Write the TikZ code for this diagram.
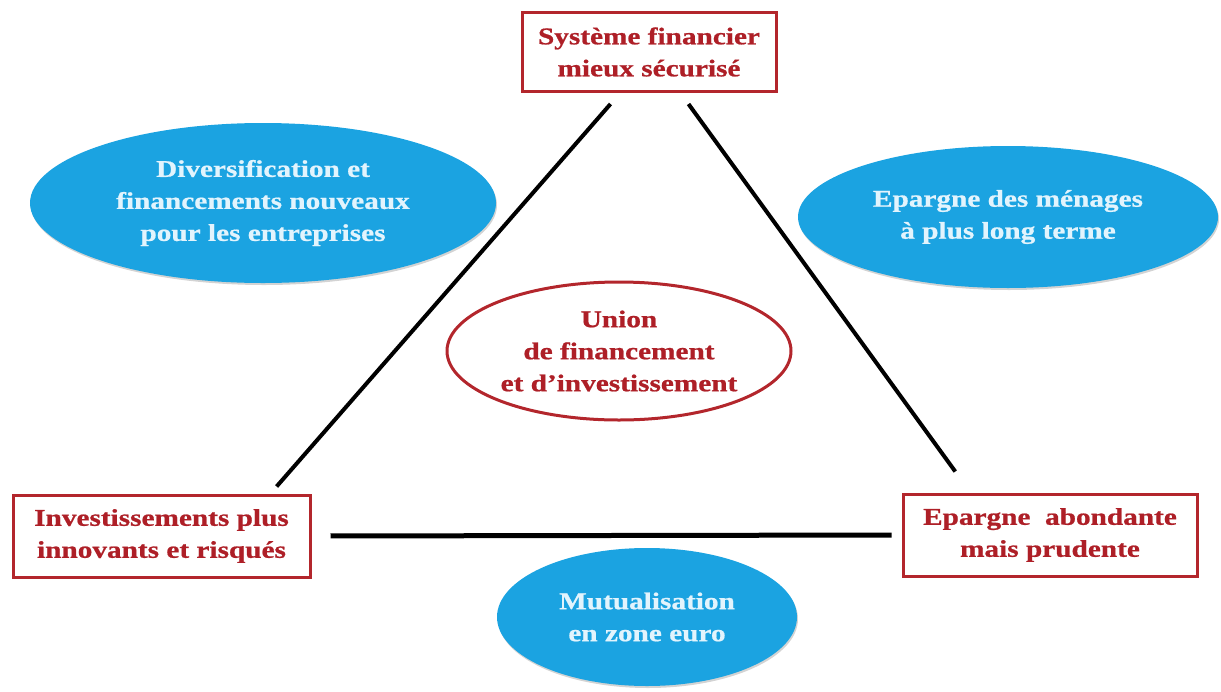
\documentclass[tikz,border=0pt]{standalone}
\usepackage{fontspec}
\setmainfont{Liberation Serif}[BoldFeatures={FakeStretch=1.22,FakeBold=0.8}]
\usetikzlibrary{shapes.geometric,calc,shadows}
\definecolor{boxred}{HTML}{B3262C}
\definecolor{txtred}{HTML}{AE1F27}
\definecolor{skyblue}{HTML}{1BA3E1}
\definecolor{paleblue}{HTML}{E2F4FD}
\tikzset{
  every node/.style={font=\fontsize{24}{32}\selectfont\bfseries, align=center, inner sep=0pt},
  redbox/.style={draw=boxred, line width=3pt, fill=white, text=txtred,
    drop shadow={opacity=0.2, shadow xshift=1.5pt, shadow yshift=-1.5pt}},
  blueoval/.style={ellipse, fill=skyblue, text=paleblue,
    drop shadow={opacity=0.35, shadow xshift=1pt, shadow yshift=-2pt}},
  redoval/.style={ellipse, draw=boxred, line width=3pt, fill=white, text=txtred},
  link/.style={draw=black, line width=4pt},
}
\begin{document}
\begin{tikzpicture}[x=1pt, y=-1pt]
  \useasboundingbox (0,0) rectangle (1221,691);

  % three poles of the triangle
  \node[redbox, minimum width=254pt, minimum height=79pt] (top) at (649,52)
    {Système financier\\mieux sécurisé};
  \node[redbox, minimum width=297pt, minimum height=82pt] (left) at (161.5,536)
    {Investissements plus\\innovants et risqués};
  \node[redbox, minimum width=294pt, minimum height=82pt] (right) at (1050,535)
    {Epargne~ abondante\\mais prudente};

  % blue ellipses around the triangle
  \node[blueoval, minimum width=466pt, minimum height=160pt] (diver) at (263,203)
    {Diversification et\\financements nouveaux\\pour les entreprises};
  \node[blueoval, minimum width=420pt, minimum height=142pt] (menage) at (1008,217)
    {Epargne des ménages\\à plus long terme};
  \node[blueoval, minimum width=300pt, minimum height=138pt] (mutual) at (647,617)
    {Mutualisation\\en zone euro};

  % central ellipse
  \node[redoval, minimum width=344pt, minimum height=138pt] (union) at (619,351)
    {Union\\de financement\\et d'investissement};

  % sides of the triangle
  \draw[link, shorten <=14.6pt, shorten >=9.3pt]
    ($(top.south west)+(99.6,0)$) -- ($(left.north east)+(-41,0)$);
  \draw[link, shorten <=13.6pt, shorten >=25.9pt]
    ($(top.south west)+(160,0)$) -- ($(right.north west)+(69,0)$);
  \draw[link, line width=5pt, shorten <=19pt, shorten >=10pt]
    (left.east) -- (right.west);
\end{tikzpicture}
\end{document}
